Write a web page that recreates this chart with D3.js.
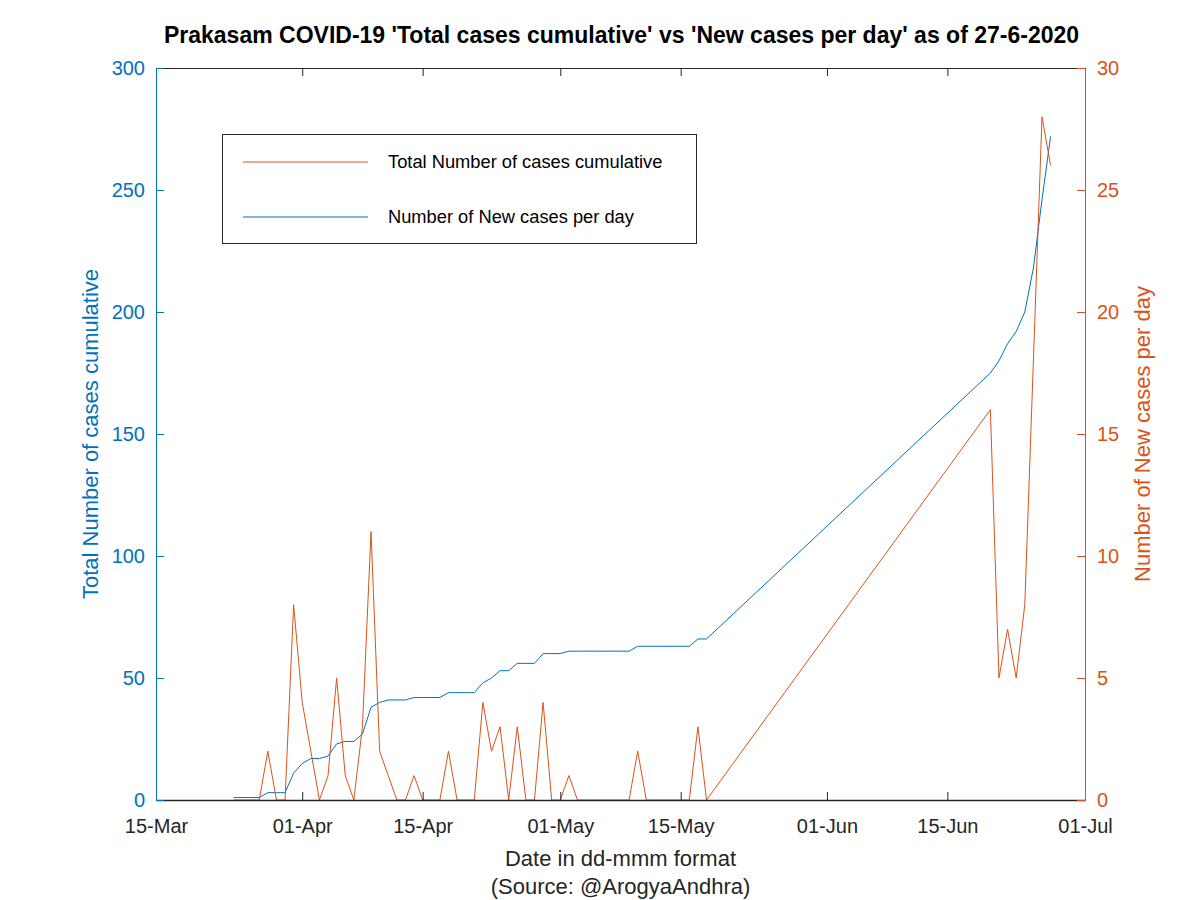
<!DOCTYPE html>
<html>
<head>
<meta charset="utf-8">
<script src="https://cdn.jsdelivr.net/npm/d3@7"></script>
<style>
  html, body { margin: 0; padding: 0; background: #fff; }
  svg { display: block; font-family: "Liberation Sans", Arial, Helvetica, sans-serif; }
</style>
</head>
<body>
<svg id="chart" width="1200" height="900"></svg>
<script>
// ---- Data ----
const dates = [
  "2020-03-24","2020-03-25","2020-03-26","2020-03-27","2020-03-28","2020-03-29","2020-03-30","2020-03-31",
  "2020-04-01","2020-04-02","2020-04-03","2020-04-04","2020-04-05","2020-04-06","2020-04-07","2020-04-08",
  "2020-04-09","2020-04-10","2020-04-11","2020-04-12","2020-04-13","2020-04-14","2020-04-15","2020-04-16",
  "2020-04-17","2020-04-18","2020-04-19","2020-04-20","2020-04-21","2020-04-22","2020-04-23","2020-04-24",
  "2020-04-25","2020-04-26","2020-04-27","2020-04-28","2020-04-29","2020-04-30",
  "2020-05-01","2020-05-02","2020-05-03","2020-05-04","2020-05-05","2020-05-06","2020-05-07","2020-05-08",
  "2020-05-09","2020-05-10","2020-05-11","2020-05-12","2020-05-13","2020-05-14","2020-05-15","2020-05-16",
  "2020-05-17","2020-05-18",
  "2020-06-20","2020-06-21","2020-06-22","2020-06-23","2020-06-24","2020-06-25","2020-06-26","2020-06-27"
];
const totalCases = [
  1,1,1,1,3,3,3,11,
  15,17,17,18,23,24,24,27,
  38,40,41,41,41,42,42,42,
  42,44,44,44,44,48,50,53,
  53,56,56,56,60,60,
  60,61,61,61,61,61,61,61,
  61,63,63,63,63,63,63,63,
  66,66,
  175,180,187,192,200,218,246,272
];
const newCases = [
  0,0,0,0,2,0,0,8,
  4,2,0,1,5,1,0,3,
  11,2,1,0,0,1,0,0,
  0,2,0,0,0,4,2,3,
  0,3,0,0,4,0,
  0,1,0,0,0,0,0,0,
  0,2,0,0,0,0,0,0,
  3,0,
  16,5,7,5,8,18,28,26
];
const xTickDates = ["2020-03-15","2020-04-01","2020-04-15","2020-05-01","2020-05-15","2020-06-01","2020-06-15","2020-07-01"];
const xTickLabels = ["15-Mar","01-Apr","15-Apr","01-May","15-May","01-Jun","15-Jun","01-Jul"];
const leftTicks = [0,50,100,150,200,250,300];
const rightTicks = [0,5,10,15,20,25,30];
const titleText = "Prakasam COVID-19 'Total cases cumulative' vs 'New cases per day' as of 27-6-2020";
const legendLabels = ["Total Number of cases cumulative", "Number of New cases per day"];

// ---- Layout ----
const BLUE = "#0072BD", ORANGE = "#D95319", AX = "#262626";
const L = 156, R = 1085, T = 68, B = 800;
const FONT = "Liberation Sans, Arial, sans-serif";
const parse = d3.utcParse("%Y-%m-%d");

const svg = d3.select("#chart");
const x = d3.scaleUtc().domain([parse("2020-03-15"), parse("2020-07-01")]).range([L, R]);
const yL = d3.scaleLinear().domain([0, 300]).range([B, T]);
const yR = d3.scaleLinear().domain([0, 30]).range([B, T]);

const rows = dates.map((d, i) => ({ date: parse(d), total: totalCases[i], nw: newCases[i] }));

// Lines
svg.append("path").datum(rows)
  .attr("fill", "none").attr("stroke", BLUE).attr("stroke-width", 1)
  .attr("d", d3.line().x(d => x(d.date)).y(d => yL(d.total)));
svg.append("path").datum(rows)
  .attr("fill", "none").attr("stroke", ORANGE).attr("stroke-width", 1)
  .attr("d", d3.line().x(d => x(d.date)).y(d => yR(d.nw)));

// Axes
const tickDates = xTickDates.map(parse);
const fmtMap = new Map(xTickDates.map((d, i) => [parse(d).getTime(), xTickLabels[i]]));

const xb = svg.append("g").attr("transform", `translate(0,${B})`)
  .call(d3.axisBottom(x).tickValues(tickDates).tickFormat(d => fmtMap.get(d.getTime()))
    .tickSizeInner(-8).tickSizeOuter(0).tickPadding(19));
xb.select(".domain").attr("stroke", AX).attr("stroke-width", 1.5);
xb.selectAll(".tick line").attr("stroke", AX);
xb.selectAll(".tick text").attr("fill", AX).attr("font-size", 20).attr("font-family", FONT);

const xt = svg.append("g").attr("transform", `translate(0,${T})`)
  .call(d3.axisTop(x).tickValues(tickDates).tickFormat("").tickSizeInner(-8).tickSizeOuter(0));
xt.select(".domain").attr("stroke", AX);
xt.selectAll(".tick line").attr("stroke", AX);

const yl = svg.append("g").attr("transform", `translate(${L},0)`)
  .call(d3.axisLeft(yL).tickValues(leftTicks).tickSizeInner(-8).tickSizeOuter(0).tickPadding(11));
yl.select(".domain").attr("stroke", BLUE);
yl.selectAll(".tick line").attr("stroke", BLUE);
yl.selectAll(".tick text").attr("fill", BLUE).attr("font-size", 20).attr("font-family", FONT);

const yr = svg.append("g").attr("transform", `translate(${R},0)`)
  .call(d3.axisRight(yR).tickValues(rightTicks).tickSizeInner(-8).tickSizeOuter(0).tickPadding(12));
yr.select(".domain").attr("stroke", ORANGE);
yr.selectAll(".tick line").attr("stroke", ORANGE);
yr.selectAll(".tick text").attr("fill", ORANGE).attr("font-size", 20).attr("font-family", FONT);

// Title
svg.append("text").attr("x", (L + R) / 2 + 1).attr("y", 43).attr("text-anchor", "middle")
  .attr("font-size", 23).attr("font-weight", "bold").attr("fill", "#000").text(titleText);

// Axis labels
svg.append("text").attr("transform", `translate(98,${(T + B) / 2}) rotate(-90)`)
  .attr("text-anchor", "middle").attr("font-size", 22).attr("fill", BLUE)
  .text("Total Number of cases cumulative");
svg.append("text").attr("transform", `translate(1150,${(T + B) / 2}) rotate(-90)`)
  .attr("text-anchor", "middle").attr("font-size", 22).attr("fill", ORANGE)
  .text("Number of New cases per day");
svg.append("text").attr("x", (L + R) / 2).attr("y", 866).attr("text-anchor", "middle")
  .attr("font-size", 22).attr("fill", AX).text("Date in dd-mmm format");
svg.append("text").attr("x", (L + R) / 2).attr("y", 894).attr("text-anchor", "middle")
  .attr("font-size", 22).attr("fill", AX).text("(Source: @ArogyaAndhra)");

// Legend
const lg = svg.append("g");
lg.append("rect").attr("x", 222.5).attr("y", 134.5).attr("width", 474).attr("height", 109)
  .attr("fill", "#fff").attr("stroke", AX).attr("stroke-width", 1);
const legColors = [ORANGE, BLUE];
legendLabels.forEach((lab, i) => {
  const yy = 162 + i * 55;
  lg.append("line").attr("x1", 243).attr("x2", 368).attr("y1", yy).attr("y2", yy)
    .attr("stroke", legColors[i]).attr("stroke-width", 1);
  lg.append("text").attr("x", 388).attr("y", yy + 6).attr("font-size", 18.3).attr("fill", "#000").text(lab);
});
</script>
</body>
</html>
